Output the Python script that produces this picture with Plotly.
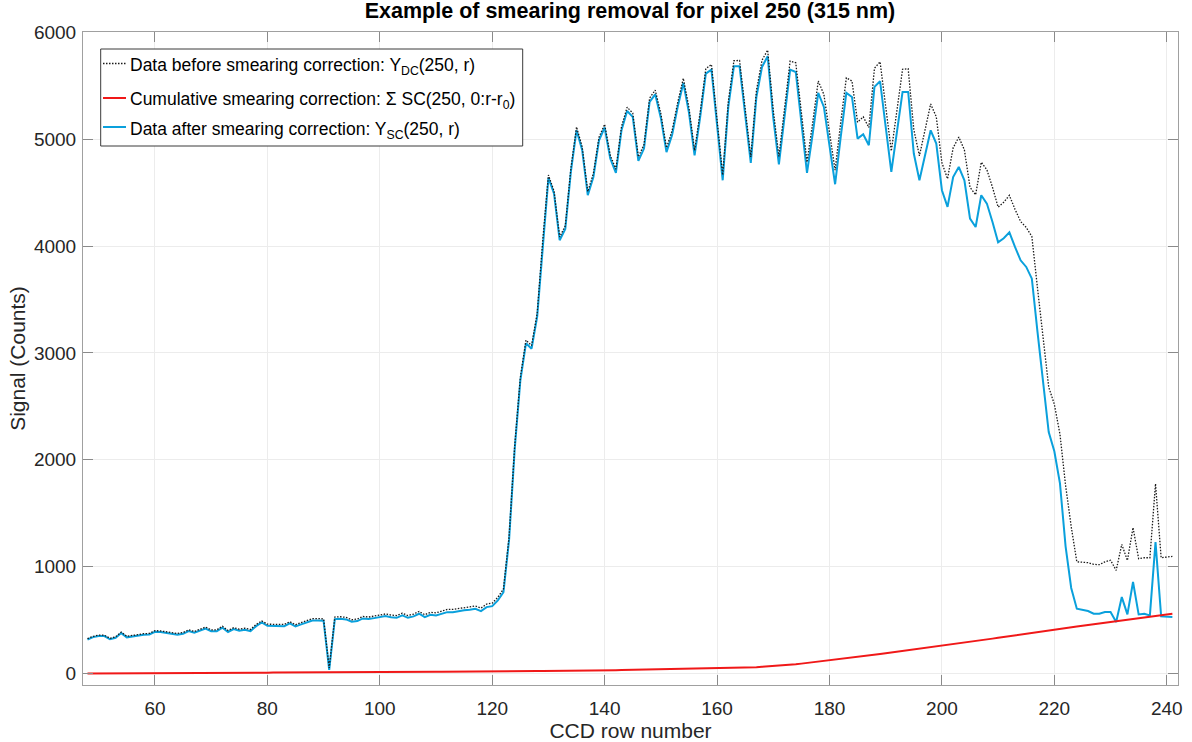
import plotly.graph_objects as go

# CCD rows 48..241
rows = list(range(48, 242))

# Signal before smearing correction, Y_DC(250, r)
before = [
    326, 348, 358, 358, 329, 343, 387, 347, 356, 366, 372, 375,
    401, 398, 389, 382, 374, 383, 408, 393, 416, 434,
    408, 409, 442, 402, 429, 414, 424, 411, 458, 492,
    461, 462, 465, 459, 484, 456, 476, 494, 513, 514,
    511, 52, 528, 531, 525, 503, 509, 534, 528, 537,
    546, 557, 547, 542, 564, 542, 556, 581, 550, 572,
    567, 584, 599, 600, 610, 619, 623, 632, 612, 649,
    658, 713, 790, 1280, 2130, 2770, 3120, 3070, 3370, 4060,
    4665, 4515, 4085, 4190, 4730, 5115, 4930, 4510, 4680, 5020,
    5140, 4850, 4720, 5120, 5300, 5245, 4835, 4950, 5385, 5460,
    5240, 4920, 5080, 5345, 5570, 5295, 4895, 5255, 5660, 5700,
    5150, 4665, 5353, 5735, 5738, 5264, 4835, 5455, 5740, 5835,
    5270, 4840, 5285, 5732, 5716, 5240, 4785, 5152, 5545, 5420,
    5050, 4710, 5160, 5575, 5545, 5160, 5210, 5110, 5665, 5725,
    5305, 4890, 5270, 5655, 5660, 5090, 4845, 5085, 5330, 5210,
    4780, 4630, 4920, 5020, 4900, 4550, 4480, 4785, 4715, 4550,
    4365, 4410, 4475, 4345, 4230, 4175, 4090, 3610, 3150, 2680,
    2520, 2240, 1760, 1375, 1045, 1043, 1037, 1021, 1018, 1045,
    1060, 965, 1208, 1058, 1365, 1074, 1083, 1083, 1776, 1083,
    1090, 1096,
]

# Cumulative smearing correction, sum SC(250, 0:r-r0)
correction = [
    0, 0, 0, 0, 1, 1, 1, 1, 2, 2, 2, 2,
    3, 3, 3, 3, 4, 4, 4, 4, 5, 5,
    5, 5, 6, 6, 6, 6, 7, 7, 7, 7,
    7, 8, 8, 8, 8, 8, 9, 9, 9, 9,
    9, 9, 9, 10, 10, 10, 10, 10, 10, 10,
    10, 11, 11, 12, 12, 13, 13, 14, 14, 15,
    15, 16, 16, 17, 17, 18, 18, 18, 19, 19,
    19, 20, 20, 21, 21, 22, 22, 23, 23, 24,
    24, 25, 25, 26, 26, 27, 27, 28, 28, 29,
    30, 31, 31, 32, 33, 34, 35, 35, 36, 37,
    38, 39, 40, 41, 42, 43, 44, 45, 46, 47,
    48, 49, 50, 52, 53, 55, 57, 59, 62, 65,
    68, 72, 76, 80, 86, 92, 98, 104, 110, 116,
    122, 129, 136, 142, 149, 156, 162, 169, 176, 182,
    189, 196, 203, 209, 216, 223, 229, 236, 243, 249,
    256, 264, 272, 280, 287, 295, 303, 311, 319, 326,
    334, 342, 350, 358, 365, 373, 381, 389, 397, 404,
    412, 419, 426, 433, 440, 447, 454, 461, 468, 475,
    482, 489, 496, 503, 510, 517, 524, 531, 538, 545,
    552, 559,
]

# Signal after smearing correction, Y_SC(250, r)
after = [
    318, 340, 350, 350, 320, 334, 378, 338, 346, 356, 362, 365,
    390, 387, 378, 371, 362, 371, 396, 381, 403, 421,
    395, 396, 428, 388, 415, 400, 409, 396, 443, 477,
    446, 446, 449, 443, 468, 440, 459, 477, 496, 496,
    493, 34, 509, 512, 506, 484, 490, 515, 509, 518,
    527, 537, 527, 521, 543, 521, 534, 559, 527, 549,
    543, 559, 574, 574, 584, 592, 596, 605, 584, 621,
    630, 684, 760, 1250, 2100, 2740, 3090, 3040, 3340, 4030,
    4640, 4490, 4055, 4160, 4700, 5085, 4900, 4476, 4647, 4990,
    5110, 4819, 4685, 5085, 5265, 5210, 4797, 4913, 5350, 5421,
    5200, 4880, 5040, 5303, 5527, 5250, 4850, 5209, 5615, 5652,
    5100, 4616, 5303, 5684, 5684, 5209, 4778, 5396, 5677, 5777,
    5200, 4766, 5209, 5652, 5630, 5147, 4685, 5047, 5434, 5303,
    4928, 4579, 5022, 5434, 5396, 5006, 5047, 4944, 5490, 5543,
    5116, 4694, 5069, 5443, 5443, 4866, 4616, 4850, 5084, 4960,
    4523, 4367, 4647, 4741, 4616, 4257, 4179, 4476, 4398, 4226,
    4035, 4073, 4128, 3992, 3867, 3805, 3695, 3200, 2712, 2260,
    2080, 1780, 1190, 800, 606, 596, 584, 559, 559, 575,
    575, 481, 715, 553, 856, 553, 559, 543, 1230, 534,
    528, 528,
]

x_ticks = [60, 80, 100, 120, 140, 160, 180, 200, 220, 240]
y_ticks = [0, 1000, 2000, 3000, 4000, 5000, 6000]

series_labels = [
    "Data before smearing correction: Y<sub>DC</sub>(250, r)",
    "Cumulative smearing correction: \u03a3 SC(250, 0:r-r<sub>0</sub>)",
    "Data after smearing correction: Y<sub>SC</sub>(250, r)",
]

FONT = "Liberation Sans, Arial, Helvetica, sans-serif"
TXT = "#262626"
C_BEFORE, C_CORR, C_AFTER = "#1a1a1a", "#F01818", "#0AA0DC"

W, H = 1192, 742
ML, MR, MT, MB = 83, 14, 32, 57
PW, PH = W - ML - MR, H - MT - MB


def xp(px):
    return (px - ML) / PW


def yp(py):
    return (H - MB - py) / PH


fig = go.Figure()

fig.add_trace(go.Scatter(x=rows, y=after, mode="lines", name=series_labels[2],
                         line=dict(color=C_AFTER, width=2)))
fig.add_trace(go.Scatter(x=rows, y=correction, mode="lines", name=series_labels[1],
                         line=dict(color=C_CORR, width=2)))
fig.add_trace(go.Scatter(x=rows, y=before, mode="lines", name=series_labels[0],
                         line=dict(color=C_BEFORE, width=1.3, dash="1.5px,1.5px")))

# boxed legend in the upper-left corner of the axes
shapes = [dict(type="rect", xref="paper", yref="paper",
               x0=xp(100.7), x1=xp(522.7), y0=yp(146), y1=yp(49),
               fillcolor="white", line=dict(color="#3a3a3a", width=1), layer="above")]
annotations = []
legend_rows = [
    (63.5, series_labels[0], C_BEFORE, dict(width=1.3, dash="1.5px,1.5px")),
    (98, series_labels[1], C_CORR, dict(width=2)),
    (127, series_labels[2], C_AFTER, dict(width=2)),
]
for ypx, label, color, style in legend_rows:
    shapes.append(dict(type="line", xref="paper", yref="paper",
                       x0=xp(103), x1=xp(126), y0=yp(ypx), y1=yp(ypx),
                       line=dict(color=color, **style), layer="above"))
    annotations.append(dict(xref="paper", yref="paper", x=xp(127.5), y=yp(ypx + 3),
                            xanchor="left", yanchor="middle", showarrow=False,
                            text=label, font=dict(family=FONT, size=17.5, color="#000000")))

axis_common = dict(
    showline=True, linecolor="#a0a0a0", linewidth=1, mirror="ticks",
    ticks="inside", ticklen=10, tickcolor="#8a8a8a", tickwidth=1,
    showgrid=True, gridcolor="#ececec", gridwidth=1, zeroline=False,
    tickfont=dict(family=FONT, size=19, color=TXT), automargin=False,
)

fig.update_layout(
    width=W, height=H,
    margin=dict(l=ML, r=MR, t=MT, b=MB, autoexpand=False),
    paper_bgcolor="white", plot_bgcolor="white",
    showlegend=False,
    title=dict(
        text="<b>Example of smearing removal for pixel 250 (315 nm)</b>",
        font=dict(family=FONT, size=21.5, color="#000000"),
        x=xp(630), xanchor="center", xref="paper", y=0.986, yanchor="middle",
    ),
    xaxis=dict(
        range=[47.2, 242.0], tickvals=x_ticks, ticklabelstandoff=6,
        title=dict(text="CCD row number", standoff=9,
                   font=dict(family=FONT, size=21, color=TXT)),
        **axis_common,
    ),
    yaxis=dict(
        range=[-108, 6004], tickvals=y_ticks, ticklabelstandoff=2,
        title=dict(text="Signal (Counts)", standoff=2,
                   font=dict(family=FONT, size=21, color=TXT)),
        **axis_common,
    ),
    shapes=shapes,
    annotations=annotations,
)

fig.write_html("out.html")
